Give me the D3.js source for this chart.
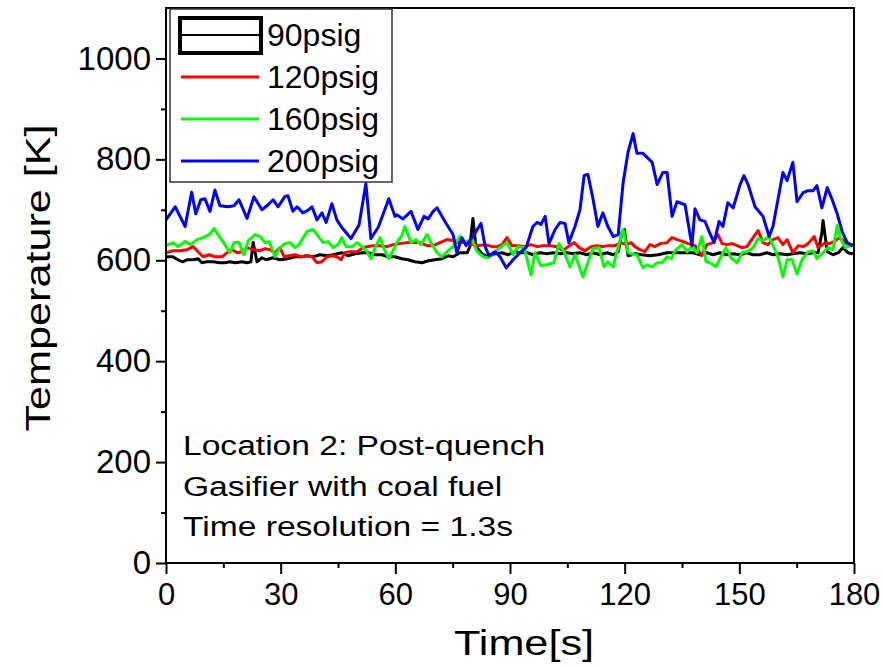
<!DOCTYPE html>
<html>
<head>
<meta charset="utf-8">
<script src="https://cdn.jsdelivr.net/npm/d3@7"></script>
<style>
  body { margin: 0; background: #fff; }
  svg { display: block; }
  text { font-family: "Liberation Sans", Arial, sans-serif; fill: #000; }
</style>
</head>
<body>
<svg id="chart" width="884" height="668"></svg>
<script>
// series names (legend)
var seriesNames = ['90psig', '120psig', '160psig', '200psig'];
var seriesColors = ['#000000', '#ff0000', '#00ff00', '#0000ff'];

// 90psig
var t90 = [0,1.8,3.1,4.4,5.5,7.1,8.4,9.4,10.7,12.3,
  14.1,15.4,16.7,18.1,19.9,21.2,22.2,22.8,23.8,25.1,
  26.2,28.0,29.8,31.9,33.7,35.6,36.9,38.5,40.3,42.1,
  43.7,46.0,47.6,49.5,51.3,52.9,54.7,56.5,58.1,59.9,
  61.7,63.3,65.1,67.0,68.6,70.4,72.2,73.8,75.1,76.9,
  78.8,79.5,80.3,81.1,82.7,84.2,86.1,87.9,89.5,91.3,
  92.6,94.5,96.0,97.9,99.7,101.3,103.1,104.9,106.5,108.3,
  110.2,111.7,113.6,115.4,117.0,118.3,119.3,119.9,120.9,122.8,
  124.5,126.6,128.7,131.1,132.6,134.5,136.3,137.9,139.7,141.5,
  143.1,144.9,146.8,148.4,150.2,152.0,153.6,155.4,157.2,158.8,
  160.6,162.5,164.0,165.9,167.7,169.3,170.6,171.6,171.9,173.0,
  174.5,175.9,177.1,178.4,179.7];
var v90 = [607,607,601,597,601,601,603,595,597,597,
  595,595,597,595,597,595,597,635,597,605,
  601,605,601,603,607,607,609,607,611,609,
  611,615,609,613,615,615,611,611,607,607,
  603,601,597,595,599,601,603,609,607,615,
  615,627,683,627,613,607,613,615,611,617,
  615,615,611,615,613,615,613,615,613,615,
  611,615,611,615,611,617,655,661,609,613,
  611,609,611,615,615,615,615,615,611,615,
  611,615,611,613,611,615,611,611,615,611,
  613,611,613,615,613,615,615,655,679,617,
  611,615,625,615,613];

// 120psig
var t120 = [0,1.8,3.7,5.5,7.1,8.4,9.7,11.3,12.8,14.7,
  16.0,17.3,18.6,20.1,21.2,22.8,24.6,25.9,27.2,28.5,
  29.8,30.9,32.2,33.7,35.3,36.9,38.2,39.5,40.8,42.1,
  43.7,44.7,45.8,46.8,48.1,50.0,51.5,52.6,54.2,56.0,
  57.8,59.4,61.2,63.1,64.6,66.5,68.3,69.9,71.7,73.5,
  75.1,76.4,78.2,80.1,81.6,83.5,85.3,86.6,87.9,89.2,
  90.5,92.1,93.9,95.5,97.1,98.6,100.5,102.3,103.9,105.2,
  106.8,108.1,109.6,111.2,112.8,114.3,115.6,117.5,119.0,120.4,
  121.7,122.7,124.0,125.3,126.6,127.9,129.3,131.1,132.4,133.7,
  135.3,136.6,138.4,140.2,141.5,143.1,144.4,145.5,146.8,148.1,
  149.4,150.7,152.0,153.6,154.9,156.2,157.5,158.8,160.1,161.4,
  162.5,164.0,165.4,166.7,168.0,169.6,170.6,172.2,173.5,174.8,
  176.3,177.7,179.0,179.7];
var v120 = [615,619,619,621,627,617,607,611,607,607,
  615,621,615,617,625,621,619,623,621,615,
  625,607,609,611,607,609,607,595,597,607,
  609,607,601,615,617,617,625,627,629,629,
  627,631,633,635,635,635,629,629,635,641,
  639,635,635,631,629,631,627,627,631,645,
  629,629,627,631,627,629,629,627,619,627,
  635,625,619,627,629,627,629,629,635,631,
  635,627,621,617,631,627,633,635,645,641,
  637,633,629,609,631,635,651,633,631,633,
  629,625,627,645,659,635,631,641,645,631,
  641,615,629,627,633,647,625,633,633,637,
  645,635,631,627];

// 160psig
var t160 = [0,1.8,3.1,5.0,6.5,8.1,9.7,11.3,12.6,13.9,
  14.9,16.7,17.8,19.1,20.4,21.5,23.3,24.6,25.9,27.0,
  28.5,29.6,31.1,32.4,33.8,34.8,36.9,38.5,39.5,41.1,
  42.4,43.7,45.0,46.0,47.1,48.7,50.0,51.3,52.6,53.6,
  54.7,56.0,57.0,58.3,59.4,60.4,61.7,62.5,64.1,65.4,
  66.7,68.3,69.3,70.9,72.2,73.5,75.1,76.9,78.2,80.1,
  81.4,82.9,84.2,86.1,87.4,89.2,90.8,92.1,93.7,95.5,
  96.5,98.1,99.7,101.5,102.8,104.1,105.7,107.0,109.1,110.7,
  111.7,113.3,114.6,115.6,117.0,118.3,119.6,120.9,122.2,123.2,
  124.8,125.8,127.2,128.5,129.8,131.1,132.2,133.2,135.0,136.3,
  137.6,138.9,140.2,141.3,142.3,143.9,145.2,146.5,147.8,149.4,
  150.7,152.0,153.6,154.9,156.2,157.8,159.1,160.1,161.4,162.5,
  163.8,165.1,166.4,168.0,169.3,170.3,171.9,173.2,174.5,175.6,
  176.6,177.7,179.0,180.0];
var v160 = [629,635,627,637,631,641,645,651,663,647,
  637,615,635,635,611,639,651,647,635,637,
  607,623,633,635,625,631,657,661,651,635,
  637,625,631,645,627,627,635,627,617,603,
  625,645,623,603,619,635,649,667,635,641,
  631,651,635,615,607,617,627,647,637,641,
  617,607,605,617,625,635,611,627,625,571,
  615,589,591,595,633,617,587,611,567,603,
  623,625,587,597,587,627,661,615,611,611,
  585,591,587,595,595,607,603,619,631,617,
  627,615,647,597,595,587,607,625,605,595,
  615,617,625,643,639,647,625,607,567,601,
  601,573,601,617,619,603,615,625,621,669,
  641,625,629,633];

// 200psig
var t200 = [0,2.4,5.0,6.7,7.8,9.1,10.2,11.5,12.8,14.1,
  16.2,17.8,19.1,21.2,23.0,25.1,26.7,28.0,29.3,31.1,
  31.9,33.2,34.3,35.8,36.9,38.2,39.5,40.8,41.9,43.4,
  44.7,46.0,48.4,50.5,52.3,53.6,55.5,58.3,59.9,60.4,
  62.0,64.1,65.9,67.5,68.6,69.9,70.9,73.3,75.1,76.1,
  77.4,78.5,80.3,82.4,83.5,84.5,86.1,87.4,89.0,90.8,
  92.6,94.2,96.0,97.1,98.1,99.2,100.2,101.8,103.1,104.4,
  105.4,107.0,108.3,109.4,110.4,111.7,113.0,114.3,115.6,117.0,
  118.3,119.6,120.9,122.2,123.2,124.8,127.2,128.5,130.0,131.1,
  132.4,133.7,135.8,137.6,138.4,139.7,141.0,142.1,143.4,144.7,
  145.7,147.0,148.4,150.2,151.2,152.3,154.1,156.2,157.8,158.8,
  161.4,162.5,164.0,165.1,166.7,168.0,169.3,170.3,171.6,173.0,
  174.3,175.6,176.9,178.2,179.7];
var v200 = [680,706,667,735,692,720,722,697,739,708,
  706,708,720,683,726,700,710,720,706,726,
  728,697,706,694,698,706,680,694,675,712,
  680,665,643,670,752,643,665,722,687,690,
  682,697,661,687,682,697,704,673,651,615,
  645,629,647,673,627,609,617,607,585,601,
  615,625,667,675,671,687,633,661,675,673,
  635,667,700,768,770,722,667,694,667,647,
  651,754,815,851,812,812,794,750,774,774,
  687,716,710,629,702,680,677,657,635,677,
  667,714,704,750,768,750,706,687,647,667,
  774,758,794,716,734,738,738,748,704,744,
  720,692,657,635,629];

var xTicks = [0, 30, 60, 90, 120, 150, 180];
var yTicks = [0, 200, 400, 600, 800, 1000];
var notes = ['Location 2: Post-quench', 'Gasifier with coal fuel', 'Time resolution = 1.3s'];

function drawChart() {
  var svg = d3.select('#chart');
  var pLeft = 166, pRight = 854, pTop = 8, pBottom = 563;
  var font = '"Liberation Sans", Arial, sans-serif';

  var x = d3.scaleLinear().domain([0, 180]).range([pLeft, pRight]);
  var y = d3.scaleLinear().domain([0, 1100]).range([pBottom, pTop]);

  function zip(ts, vs) {
    var out = [];
    for (var i = 0; i < ts.length; i++) out.push({t: ts[i], v: vs[i]});
    return out;
  }
  var series = [zip(t90, v90), zip(t120, v120), zip(t160, v160), zip(t200, v200)];

  svg.append('defs').append('clipPath').attr('id', 'plotClip')
    .append('rect').attr('x', pLeft).attr('y', pTop).attr('width', pRight - pLeft).attr('height', pBottom - pTop);

  // lines
  var line = d3.line().x(function (d) { return x(d.t); }).y(function (d) { return y(d.v); });
  svg.append('g').attr('clip-path', 'url(#plotClip)')
    .selectAll('path').data(series).enter().append('path')
    .attr('d', line)
    .attr('fill', 'none')
    .attr('stroke', function (d, i) { return seriesColors[i]; })
    .attr('stroke-width', 3)
    .attr('stroke-linejoin', 'round');

  // axes - major + minor ticks
  var yMinor = d3.range(100, 1100, 200);
  var xMinor = d3.range(15, 180, 30);

  var gy = svg.append('g').attr('transform', 'translate(' + pLeft + ',0)');
  gy.append('g').call(d3.axisLeft(y).tickValues(yMinor).tickSize(5).tickFormat(''));
  gy.append('g').call(d3.axisLeft(y).tickValues(yTicks).tickSize(10).tickPadding(5).tickFormat(d3.format('d')));
  var gx = svg.append('g').attr('transform', 'translate(0,' + pBottom + ')');
  gx.append('g').call(d3.axisBottom(x).tickValues(xMinor).tickSize(5).tickFormat(''));
  gx.append('g').call(d3.axisBottom(x).tickValues(xTicks).tickSize(11).tickPadding(9));

  svg.selectAll('.domain').remove();
  svg.selectAll('.tick line').attr('stroke', '#000').attr('stroke-width', 2);
  gy.selectAll('.tick text').attr('font-size', 33).attr('font-family', font).attr('fill', '#000');
  gx.selectAll('.tick text').attr('font-size', 31).attr('font-family', font).attr('fill', '#000');

  // frame
  svg.append('rect').attr('x', pLeft).attr('y', pTop).attr('width', pRight - pLeft).attr('height', pBottom - pTop)
    .attr('fill', 'none').attr('stroke', '#000').attr('stroke-width', 2);

  // axis titles (source text is a bit stretched sideways)
  svg.append('text').attr('transform', 'translate(524,655) scale(1.2,1)')
    .attr('text-anchor', 'middle').attr('font-size', 36).text('Time[s]');
  svg.append('text').attr('transform', 'translate(50,278) rotate(-90) scale(1.2,1)')
    .attr('text-anchor', 'middle').attr('font-size', 36).text('Temperature [K]');

  // notes
  svg.selectAll('.note').data(notes).enter().append('text')
    .attr('class', 'note')
    .attr('transform', function (d, i) { return 'translate(183,' + (455 + i * 40.7) + ') scale(1.2,1)'; })
    .attr('font-size', 28).text(function (d) { return d; });

  // legend
  var lg = svg.append('g');
  lg.append('rect').attr('x', 170).attr('y', 9).attr('width', 222).attr('height', 173)
    .attr('fill', '#fff').attr('stroke', '#333').attr('stroke-width', 1.5);
  var rows = lg.selectAll('.row').data(seriesNames).enter().append('g')
    .attr('transform', function (d, i) { return 'translate(0,' + (35 + i * 42) + ')'; });
  rows.append('line').attr('x1', 181).attr('x2', 259).attr('y1', 0).attr('y2', 0)
    .attr('stroke', function (d, i) { return seriesColors[i]; })
    .attr('stroke-width', function (d, i) { return i == 0 ? 2 : 3; });
  rows.filter(function (d, i) { return i == 0; }).append('rect')
    .attr('x', 180).attr('y', -17).attr('width', 81).attr('height', 35)
    .attr('fill', 'none').attr('stroke', '#000').attr('stroke-width', 4);
  rows.append('text').attr('x', 267).attr('y', 10.5).attr('font-size', 32).text(function (d) { return d; });
}

drawChart();
</script>
</body>
</html>
